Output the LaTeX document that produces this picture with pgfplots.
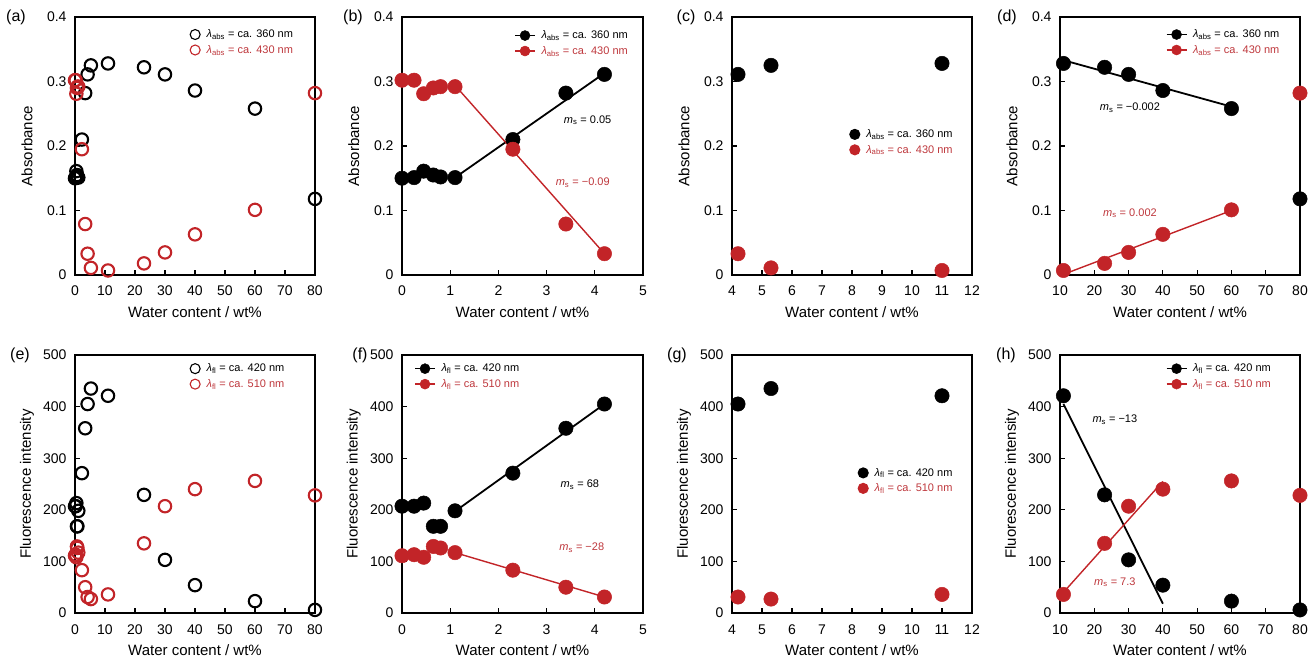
\documentclass[border=0pt]{standalone}
\usepackage{pgfplots}
\pgfplotsset{compat=1.18}
\usepackage{fontspec}
\setmainfont{Liberation Sans}
\definecolor{myred}{RGB}{194,36,40}
\definecolor{legred}{RGB}{190,55,60}
\newcommand{\lab}{\textit{λ}\textsubscript{abs}}
\newcommand{\lfl}{\textit{λ}\textsubscript{fl}}
\newcommand{\ms}{\textit{m}\textsubscript{s}}
\tikzset{anno/.style={font=\fontsize{11}{11}\selectfont}}
\pgfplotsset{
  panel/.style={scale only axis, width=240pt, height=258pt, anchor=south west, clip=false,
    axis line style={line width=1.4pt},
    tick style={line width=1.2pt, black},
    tick align=inside, major tick length=5pt,
    xtick pos=bottom, ytick pos=left,
    ticklabel style={font=\fontsize{14}{14}\selectfont},
    /pgf/number format/assume math mode=true,
    xlabel={Water content / wt\%},
    label style={font=\fontsize{15}{15}\selectfont},
    xlabel style={at={(axis description cs:0.5,-0.1434)}, anchor=center},
    ylabel style={at={(axis description cs:-0.2,0.5)}, anchor=center},
    xticklabel style={anchor=base, yshift=-21pt},
    yticklabel style={xshift=-5pt},
    legend style={draw=none, fill=none, font=\fontsize{11}{11}\selectfont, anchor=north west, inner sep=0pt, row sep=3pt, nodes={inner sep=1.5pt}},
    legend cell align=left,
  },
  absp/.style={panel, ymin=0, ymax=0.4, ytick={0,0.1,0.2,0.3,0.4}, ylabel={Absorbance}, yticklabel style={/pgf/number format/fixed}},
  flp/.style={panel, ymin=0, ymax=500, ytick={0,100,200,300,400,500}, ylabel={Fluorescence intensity}},
  openk/.style={only marks, mark=o, black, mark size=6.2pt, line width=2.1pt},
  openr/.style={only marks, mark=o, myred, mark size=6.2pt, line width=2.1pt},
  fillk/.style={only marks, mark=*, black, mark size=7.2pt, line width=0.5pt},
  fillr/.style={only marks, mark=*, myred, mark size=7.2pt, line width=0.5pt},
  fitk/.style={black, line width=1.8pt, no marks, forget plot},
  fitr/.style={myred, line width=1.4pt, no marks, forget plot},
  markleg/.style={legend image code/.code={\draw[##1, mark size=5pt, line width=1.1pt] plot coordinates {(5pt,0pt)}; \path[draw=none,fill=none] (0pt,0pt) rectangle (15pt,0pt);}},
  lineleg/.style={legend image code/.code={\draw[##1, line width=1.5pt] (0pt,0pt) -- (20pt,0pt); \draw[##1, mark size=5pt] plot coordinates {(10pt,0pt)}; \path[draw=none,fill=none] (0pt,0pt) rectangle (25pt,0pt);}},
}
\begin{document}
\begin{tikzpicture}
\useasboundingbox (0,0) rectangle (1308pt,658pt);
% ---------- (a)
\begin{axis}[absp, at={(75pt,383pt)}, xmin=0, xmax=80, xtick={0,10,...,80},
  legend style={at={(axis description cs:0.479,0.957)}}]
\addplot[openk, markleg] coordinates {(0,0.150)(0.25,0.151)(0.45,0.161)(0.65,0.155)(0.8,0.152)(1.1,0.151)(2.3,0.210)(3.4,0.282)(4.2,0.311)(5.3,0.325)(11,0.328)(23,0.322)(30,0.311)(40,0.286)(60,0.258)(80,0.118)};
\addlegendentry{\lab{} = ca. 360 nm}
\addplot[openr, markleg] coordinates {(0,0.302)(0.25,0.302)(0.45,0.281)(0.65,0.290)(0.8,0.292)(1.1,0.292)(2.3,0.195)(3.4,0.079)(4.2,0.033)(5.3,0.011)(11,0.007)(23,0.018)(30,0.035)(40,0.063)(60,0.101)(80,0.282)};
\addlegendentry{\textcolor{legred}{\lab{} = ca. 430 nm}}
\end{axis}
% ---------- (b)
\begin{axis}[absp, at={(402pt,383pt)}, width=241pt, xmin=0, xmax=5, xtick={0,1,...,5},
  legend style={at={(axis description cs:0.465,0.953)}}]
\addplot[fitk] coordinates {(1.1,0.151)(4.2,0.313)};
\addplot[fitr] coordinates {(1.1,0.294)(4.2,0.033)};
\addplot[fillk, lineleg] coordinates {(0,0.150)(0.25,0.151)(0.45,0.161)(0.65,0.155)(0.8,0.152)(1.1,0.151)(2.3,0.210)(3.4,0.282)(4.2,0.311)};
\addlegendentry{\lab{} = ca. 360 nm}
\addplot[fillr, lineleg] coordinates {(0,0.302)(0.25,0.302)(0.45,0.281)(0.65,0.290)(0.8,0.292)(1.1,0.292)(2.3,0.195)(3.4,0.079)(4.2,0.033)};
\addlegendentry{\textcolor{legred}{\lab{} = ca. 430 nm}}
\node[anno] at (axis cs:3.85,0.240) {\ms{} = 0.05};
\node[anno, text=legred] at (axis cs:3.75,0.143) {\ms{} = −0.09};
\end{axis}
% ---------- (c)
\begin{axis}[absp, at={(732pt,383pt)}, xmin=4, xmax=12, xtick={4,5,...,12},
  legend style={at={(axis description cs:0.49,0.570)}}]
\addplot[fillk, markleg] coordinates {(4.2,0.311)(5.3,0.325)(11,0.328)};
\addlegendentry{\lab{} = ca. 360 nm}
\addplot[fillr, markleg] coordinates {(4.2,0.033)(5.3,0.011)(11,0.007)};
\addlegendentry{\textcolor{legred}{\lab{} = ca. 430 nm}}
\end{axis}
% ---------- (d)
\begin{axis}[absp, at={(1060pt,383pt)}, xmin=10, xmax=80, xtick={10,20,...,80},
  legend style={at={(axis description cs:0.44,0.957)}}]
\addplot[fitk] coordinates {(11,0.333)(60,0.261)};
\addplot[fitr] coordinates {(11,0.001)(60,0.100)};
\addplot[fillk, lineleg] coordinates {(11,0.328)(23,0.322)(30,0.311)(40,0.286)(60,0.258)(80,0.118)};
\addlegendentry{\lab{} = ca. 360 nm}
\addplot[fillr, lineleg] coordinates {(11,0.007)(23,0.018)(30,0.035)(40,0.063)(60,0.101)(80,0.282)};
\addlegendentry{\textcolor{legred}{\lab{} = ca. 430 nm}}
\node[anno] at (axis cs:30.4,0.259) {\ms{} = −0.002};
\node[anno, text=legred] at (axis cs:30.4,0.096) {\ms{} = 0.002};
\end{axis}
% ---------- (e)
\begin{axis}[flp, at={(75pt,45pt)}, xmin=0, xmax=80, xtick={0,10,...,80},
  legend style={at={(axis description cs:0.479,0.972)}}]
\addplot[openk, markleg] coordinates {(0,207)(0.25,207)(0.45,213)(0.65,168)(0.8,168)(1.1,198)(2.3,271)(3.4,358)(4.2,405)(5.3,435)(11,421)(23,229)(30,103)(40,54)(60,23)(80,6)};
\addlegendentry{\lfl{} = ca. 420 nm}
\addplot[openr, markleg] coordinates {(0,111)(0.25,113)(0.45,108)(0.65,129)(0.8,126)(1.1,117)(2.3,83)(3.4,50)(4.2,31)(5.3,27)(11,36)(23,135)(30,207)(40,240)(60,256)(80,228)};
\addlegendentry{\textcolor{legred}{\lfl{} = ca. 510 nm}}
\end{axis}
% ---------- (f)
\begin{axis}[flp, at={(402pt,45pt)}, width=241pt, xmin=0, xmax=5, xtick={0,1,...,5},
  legend style={at={(axis description cs:0.05,0.972)}}]
\addplot[fitk] coordinates {(1.1,197)(4.2,405)};
\addplot[fitr] coordinates {(1.1,117)(4.2,31)};
\addplot[fillk, lineleg] coordinates {(0,207)(0.25,207)(0.45,213)(0.65,168)(0.8,168)(1.1,198)(2.3,271)(3.4,358)(4.2,405)};
\addlegendentry{\lfl{} = ca. 420 nm}
\addplot[fillr, lineleg] coordinates {(0,111)(0.25,113)(0.45,108)(0.65,129)(0.8,126)(1.1,117)(2.3,83)(3.4,50)(4.2,31)};
\addlegendentry{\textcolor{legred}{\lfl{} = ca. 510 nm}}
\node[anno] at (axis cs:3.69,249) {\ms{} = 68};
\node[anno, text=legred] at (axis cs:3.73,127) {\ms{} = −28};
\end{axis}
% ---------- (g)
\begin{axis}[flp, at={(732pt,45pt)}, xmin=4, xmax=12, xtick={4,5,...,12},
  legend style={at={(axis description cs:0.525,0.568)}}]
\addplot[fillk, markleg] coordinates {(4.2,405)(5.3,435)(11,421)};
\addlegendentry{\lfl{} = ca. 420 nm}
\addplot[fillr, markleg] coordinates {(4.2,31)(5.3,27)(11,36)};
\addlegendentry{\textcolor{legred}{\lfl{} = ca. 510 nm}}
\end{axis}
% ---------- (h)
\begin{axis}[flp, at={(1060pt,45pt)}, xmin=10, xmax=80, xtick={10,20,...,80},
  legend style={at={(axis description cs:0.44,0.972)}}]
\addplot[fitk] coordinates {(11,405)(40,18)};
\addplot[fitr] coordinates {(11,40)(40,255)};
\addplot[fillk, lineleg] coordinates {(11,421)(23,229)(30,103)(40,54)(60,23)(80,6)};
\addlegendentry{\lfl{} = ca. 420 nm}
\addplot[fillr, lineleg] coordinates {(11,36)(23,135)(30,207)(40,240)(60,256)(80,228)};
\addlegendentry{\textcolor{legred}{\lfl{} = ca. 510 nm}}
\node[anno] at (axis cs:26,375) {\ms{} = −13};
\node[anno, text=legred] at (axis cs:26,60) {\ms{} = 7.3};
\end{axis}
% panel labels
\begin{scope}[every node/.style={font=\fontsize{16}{16}\selectfont, anchor=center}]
\node at (16pt,641pt) {(a)};
\node at (353pt,641pt) {(b)};
\node at (686pt,641pt) {(c)};
\node at (1007pt,641pt) {(d)};
\node at (20pt,303pt) {(e)};
\node at (360pt,303pt) {(f)};
\node at (677pt,303pt) {(g)};
\node at (1006pt,303pt) {(h)};
\end{scope}
\end{tikzpicture}
\end{document}
